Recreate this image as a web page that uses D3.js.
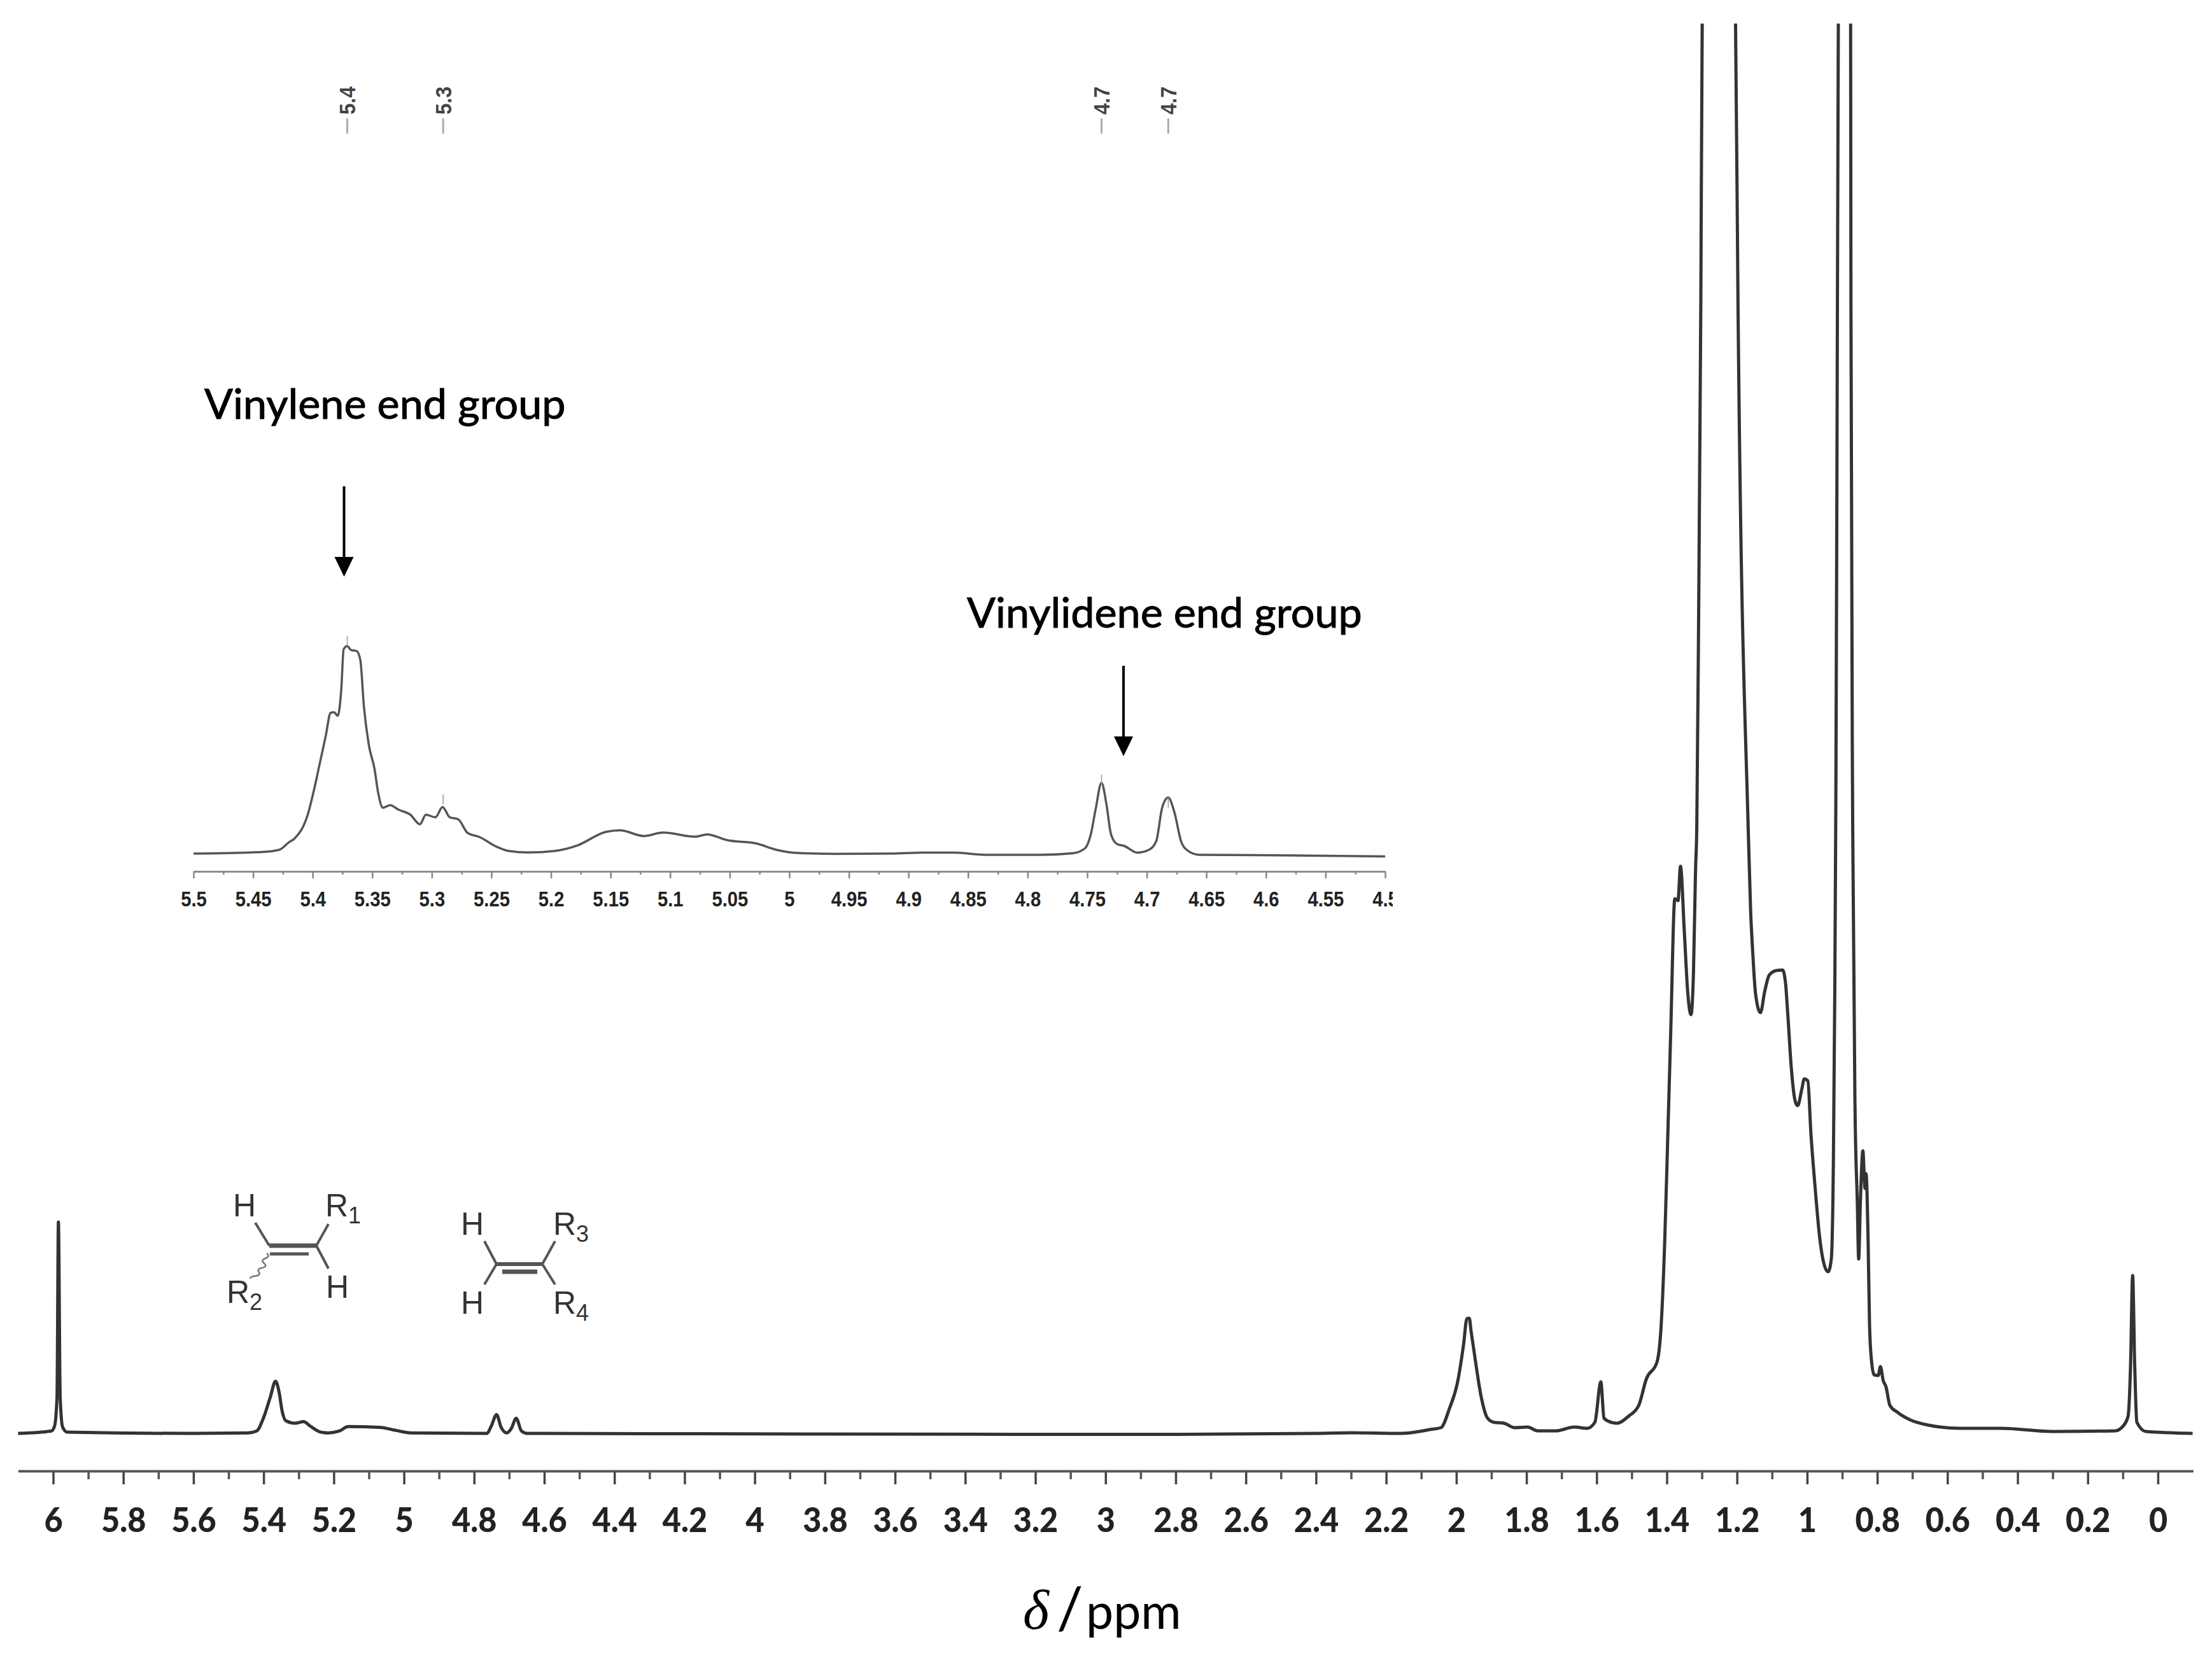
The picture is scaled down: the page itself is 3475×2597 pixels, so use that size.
<!DOCTYPE html>
<html>
<head>
<meta charset="utf-8">
<script src="https://cdn.jsdelivr.net/npm/d3@7"></script>
<style>
  html, body { margin: 0; background: #fff; }
  svg { display: block; }
</style>
</head>
<body>
<svg id="chart"></svg>
<script>
// full spectrum: chemical shift and intensity
const mainPpm = [
  6.10, 6.005, 5.996, 5.989, 5.985, 5.980, 5.973, 5.960, 5.6, 5.445, 5.420, 5.400, 5.381, 5.366, 5.356, 5.347, 5.337,
  5.311, 5.286, 5.267, 5.241, 5.216, 5.184, 5.159, 5.069, 5.025, 4.980, 4.764, 4.751, 4.736, 4.723, 4.707, 4.694,
  4.680, 4.665, 4.649, 4.2, 3.8, 2.8, 2.4, 2.3, 2.159, 2.070, 2.044, 2.019, 1.997, 1.979, 1.970, 1.963, 1.958,
  1.945, 1.930, 1.911, 1.893, 1.864, 1.834, 1.797, 1.768, 1.716, 1.664, 1.627, 1.605, 1.588, 1.579, 1.568, 1.542,
  1.509, 1.480, 1.458, 1.428, 1.416, 1.406, 1.399, 1.389, 1.377, 1.368, 1.361, 1.350, 1.340, 1.331, 1.324, 1.318,
  1.3145, 1.309, 1.303, 1.299, 1.25, 1.204, 1.197, 1.168, 1.161, 1.155, 1.147, 1.133, 1.121, 1.108, 1.089, 1.070, 1.062,
  1.055, 1.045, 1.034, 1.027, 1.015, 1.008, 0.998, 0.989, 0.978, 0.964, 0.949, 0.940, 0.931, 0.925, 0.921, 0.918,
  0.915, 0.911, 0.895, 0.876, 0.875, 0.870, 0.863, 0.857, 0.853, 0.848, 0.841, 0.835, 0.832, 0.826, 0.822, 0.816,
  0.809, 0.797, 0.791, 0.783, 0.775, 0.764, 0.742, 0.705, 0.654, 0.565, 0.447, 0.300, 0.122, 0.100, 0.085, 0.078,
  0.072, 0.066, 0.060, 0.034, -0.099
];
const mainIntensity = [
  0, 3.8, 11.5, 57, 332, 57, 10, 2, 0, 0.8, 3.8, 25, 57, 82, 65, 34.5, 20,
  16, 18.4, 11.5, 2.7, 0.8, 3.8, 10.7, 9.6, 5, 0.8, 0, 11.5, 29.5, 9.6, 0.8, 7.6,
  23.7, 3.8, 0, -0.5, -1, -1.5, 0, 1, 0, 6.5, 9, 40, 79, 141, 180, 181, 161,
  112, 60, 24, 17.5, 16, 9, 10, 4, 4, 10, 8, 17.5, 81, 24, 19.5, 16,
  27, 44, 86, 112, 170, 300, 431, 626, 840, 837, 891, 788, 691, 658, 723, 886,
  952, 1300, 1774, 2215, 3000, 2215, 1774, 952, 821, 756, 691, 661, 694, 720, 727, 728, 710,
  658, 574, 522, 515, 541, 557, 554, 470, 392, 307, 261, 254, 274, 431, 700, 1000,
  1500, 2215, 3000, 2215, 1774, 952, 496, 366, 274, 366, 444, 385, 408, 300, 170, 112,
  92, 91, 105, 83, 73, 44, 33, 21, 13, 8, 8, 3, 4, 11, 27, 105,
  248, 105, 17.5, 3, 0
];

// expanded inset, 5.5 to 4.5 ppm
const insetPpm = [
  5.500, 5.467, 5.440, 5.428, 5.420, 5.415, 5.404, 5.399, 5.394, 5.389, 5.385, 5.382, 5.379, 5.376, 5.374, 5.371,
  5.368, 5.363, 5.360, 5.357, 5.353, 5.348, 5.345, 5.341, 5.335, 5.328, 5.318, 5.310, 5.305, 5.297, 5.291, 5.285,
  5.278, 5.270, 5.260, 5.246, 5.236, 5.219, 5.196, 5.178, 5.154, 5.142, 5.122, 5.106, 5.079, 5.069, 5.052, 5.028,
  5.011, 4.994, 4.96, 4.914, 4.887, 4.861, 4.836, 4.789, 4.762, 4.752, 4.747, 4.743, 4.738, 4.734, 4.730, 4.725,
  4.719, 4.708, 4.698, 4.692, 4.687, 4.682, 4.677, 4.671, 4.667, 4.656, 4.607, 4.500
];
const insetIntensity = [
  0, 1, 2.7, 6, 17.6, 24, 62, 99, 142, 185, 221, 222, 216.5, 258, 321, 326,
  320, 318, 304, 231, 172, 132, 95, 72, 76, 69, 61, 46, 61, 57, 73, 57,
  54, 32.5, 26, 11, 4.3, 1.7, 4.3, 12.6, 34, 36.5, 27.5, 33, 26.5, 30, 21, 16,
  6, 1, -0.5, 0, 1.5, 1.5, -2, -2, 0.5, 8, 30, 69, 111, 79, 30, 15,
  12, 1.5, 6, 20, 73, 88, 66, 18, 6.5, -2, -2.5, -4.5
];

// axis ticks
const mainMajorTicks = [6, 5.8, 5.6, 5.4, 5.2, 5, 4.8, 4.6, 4.4, 4.2, 4, 3.8, 3.6, 3.4, 3.2, 3, 2.8, 2.6, 2.4, 2.2, 2, 1.8, 1.6, 1.4, 1.2, 1, 0.8, 0.6, 0.4, 0.2, 0];
const mainMinorTicks = [5.9, 5.7, 5.5, 5.3, 5.1, 4.9, 4.7, 4.5, 4.3, 4.1, 3.9, 3.7, 3.5, 3.3, 3.1, 2.9, 2.7, 2.5, 2.3, 2.1, 1.9, 1.7, 1.5, 1.3, 1.1, 0.9, 0.7, 0.5, 0.3, 0.1];
const insetMajorTicks = [5.5, 5.45, 5.4, 5.35, 5.3, 5.25, 5.2, 5.15, 5.1, 5.05, 5, 4.95, 4.9, 4.85, 4.8, 4.75, 4.7, 4.65, 4.6, 4.55, 4.5];
const insetMinorTicks = [5.475, 5.425, 5.375, 5.325, 5.275, 5.225, 5.175, 5.125, 5.075, 5.025, 4.975, 4.925, 4.875, 4.825, 4.775, 4.725, 4.675, 4.625, 4.575, 4.525];

// peak picks above the inset
const pickPpm = [5.371, 5.2905, 4.738, 4.682];
const pickLabels = ['5.4', '5.3', '4.7', '4.7'];
const pickTopIntensity = [342, 93, 124, 88];

const width = 3475;
const height = 2597;

const svg = d3.select('#chart').attr('width', width).attr('height', height);

// scales
const xMain = d3.scaleLinear().domain([6, 0]).range([83.5, 3390]);
const yMain = d3.scaleLinear().domain([0, 2215]).range([2252, 37]);
const xInset = d3.scaleLinear().domain([5.5, 4.5]).range([304, 2176]);
const yInset = d3.scaleLinear().domain([0, 326]).range([1341, 1015]);

svg.append('defs').append('clipPath').attr('id', 'topClip')
  .append('rect').attr('x', 0).attr('y', yMain(2215)).attr('width', width).attr('height', height);
svg.select('defs').append('clipPath').attr('id', 'insetClip')
  .append('rect').attr('x', 250).attr('y', 1340).attr('width', 1938).attr('height', 110);

// traces
const line = (x, y) => d3.line()
  .x(d => x(d[0]))
  .y(d => y(d[1]))
  .curve(d3.curveMonotoneX);

svg.append('path')
  .attr('clip-path', 'url(#topClip)')
  .attr('d', line(xMain, yMain)(d3.zip(mainPpm, mainIntensity)))
  .attr('fill', 'none')
  .attr('stroke', '#333')
  .attr('stroke-width', 5)
  .attr('stroke-linejoin', 'round');

svg.append('path')
  .attr('d', line(xInset, yInset)(d3.zip(insetPpm, insetIntensity)))
  .attr('fill', 'none')
  .attr('stroke', '#555')
  .attr('stroke-width', 3.5)
  .attr('stroke-linejoin', 'round');

// axes, the long one runs a bit past 6 and 0
const axisMainScale = xMain.copy().domain([6.1, -0.1]).range([xMain(6.1), xMain(-0.1)]);

function styleAxis(g, color, lineWidth) {
  g.selectAll('.domain').attr('stroke', color).attr('stroke-width', lineWidth);
  g.selectAll('.tick line').attr('stroke', color).attr('stroke-width', lineWidth);
}

const mainAxis = svg.append('g')
  .attr('transform', 'translate(0,2311)')
  .call(d3.axisBottom(axisMainScale).tickValues(mainMajorTicks).tickFormat(d3.format('~g')).tickSize(21).tickSizeOuter(0).tickPadding(37));
styleAxis(mainAxis, '#444', 3.5);
mainAxis.selectAll('text')
  .attr('font-family', 'Lato')
  .attr('font-weight', 900)
  .attr('font-size', 53)
  .attr('fill', '#222')
  .attr('transform', 'scale(0.95,1)');

const mainMinor = svg.append('g')
  .attr('transform', 'translate(0,2311)')
  .call(d3.axisBottom(axisMainScale).tickValues(mainMinorTicks).tickFormat('').tickSize(13).tickSizeOuter(0));
styleAxis(mainMinor, '#555', 3.5);

const insetAxis = svg.append('g')
  .attr('clip-path', 'url(#insetClip)')
  .append('g')
  .attr('transform', 'translate(0,1369)')
  .call(d3.axisBottom(xInset).tickValues(insetMajorTicks).tickFormat(d3.format('~g')).tickSize(11).tickSizeOuter(0).tickPadding(20));
styleAxis(insetAxis, '#888', 2.5);
insetAxis.selectAll('text')
  .attr('font-family', "'Liberation Sans'")
  .attr('font-weight', 700)
  .attr('font-size', 34)
  .attr('fill', '#222')
  .attr('transform', 'scale(0.86,1)');

const insetMinor = svg.append('g')
  .attr('transform', 'translate(0,1369)')
  .call(d3.axisBottom(xInset).tickValues(insetMinorTicks).tickFormat('').tickSize(5).tickSizeOuter(0));
styleAxis(insetMinor, '#888', 2.5);

// peak picks: thin mark on the inset trace, dash and rotated label at the top
pickPpm.forEach((p, i) => {
  const px = xInset(p);
  svg.append('line')
    .attr('x1', px).attr('x2', px)
    .attr('y1', yInset(pickTopIntensity[i])).attr('y2', yInset(pickTopIntensity[i] - 16))
    .attr('stroke', '#999').attr('stroke-width', 1.5);
  svg.append('line')
    .attr('x1', px).attr('x2', px)
    .attr('y1', 186).attr('y2', 210)
    .attr('stroke', '#aaa').attr('stroke-width', 3);
  svg.append('text')
    .attr('transform', `translate(${px + 13},158) rotate(-90) scale(0.88,1)`)
    .attr('text-anchor', 'middle')
    .attr('font-family', "'Liberation Sans'")
    .attr('font-weight', 700)
    .attr('font-size', 36)
    .attr('fill', '#444')
    .text(pickLabels[i]);
});

// annotations and arrows
function note(text, x, y) {
  svg.append('text')
    .attr('x', x).attr('y', y)
    .attr('font-family', 'Lato')
    .attr('font-size', 66.5)
    .attr('fill', '#000')
    .attr('stroke', '#000')
    .attr('stroke-width', 1)
    .text(text);
}
function arrow(x, y1, y2) {
  svg.append('line')
    .attr('x1', x).attr('x2', x).attr('y1', y1).attr('y2', y2 - 28)
    .attr('stroke', '#000').attr('stroke-width', 4);
  svg.append('path')
    .attr('d', `M${x - 15},${y2 - 31}L${x + 15},${y2 - 31}L${x},${y2}Z`)
    .attr('fill', '#000');
}
note('Vinylene end group', 321, 658);
note('Vinylidene end group', 1519, 986);
arrow(540.5, 764, 906);
arrow(1765, 1046, 1188);

// axis title
svg.append('text')
  .attr('x', 1607).attr('y', 2559)
  .attr('font-family', "'Liberation Serif'")
  .attr('font-style', 'italic')
  .attr('font-size', 88)
  .attr('fill', '#000')
  .text('δ');
svg.append('text')
  .attr('x', 1660).attr('y', 2559)
  .attr('font-family', 'Lato')
  .attr('font-size', 92)
  .attr('fill', '#000')
  .text('/');
svg.append('text')
  .attr('x', 1706).attr('y', 2559)
  .attr('font-family', 'Lato')
  .attr('font-size', 77)
  .attr('fill', '#000')
  .text('ppm');

// the two structures
const bonds = [
  [401, 1921, 423, 1957, 4], [423, 1957, 497, 1957, 7], [424, 1970, 485, 1970, 5],
  [497, 1957, 516, 1923, 4], [497, 1957, 516, 1993, 4],
  [761, 1950, 780, 1986, 4], [780, 1986, 852, 1986, 6], [789, 1998, 844, 1998, 7],
  [852, 1986, 872, 1950, 4], [852, 1986, 872, 2018, 4], [780, 1986, 761, 2018, 4]
];
svg.append('g').selectAll('line').data(bonds).join('line')
  .attr('x1', d => d[0]).attr('y1', d => d[1])
  .attr('x2', d => d[2]).attr('y2', d => d[3])
  .attr('stroke', '#555')
  .attr('stroke-width', d => d[4]);

svg.append('path')
  .attr('d', 'M419,1969q6,5 -2,8q-8,3 -2,8q6,5 -4,7q-8,2 -4,7q3,5 -8,6q-6,1 -6,4')
  .attr('fill', 'none').attr('stroke', '#777').attr('stroke-width', 2.5);

const atoms = [
  ['H', '', 384, 1911], ['R', '1', 539, 1911], ['H', '', 530, 2039], ['R', '2', 384, 2047],
  ['H', '', 742, 1940], ['R', '3', 897, 1940], ['H', '', 742, 2064], ['R', '4', 897, 2064]
];
atoms.forEach(a => {
  const t = svg.append('text')
    .attr('x', a[2]).attr('y', a[3])
    .attr('text-anchor', 'middle')
    .attr('font-family', "'Liberation Sans'")
    .attr('font-size', 50)
    .attr('fill', '#333')
    .text(a[0]);
  if (a[1]) t.append('tspan').attr('font-size', 36).attr('dy', 11).text(a[1]);
});
</script>
</body>
</html>
